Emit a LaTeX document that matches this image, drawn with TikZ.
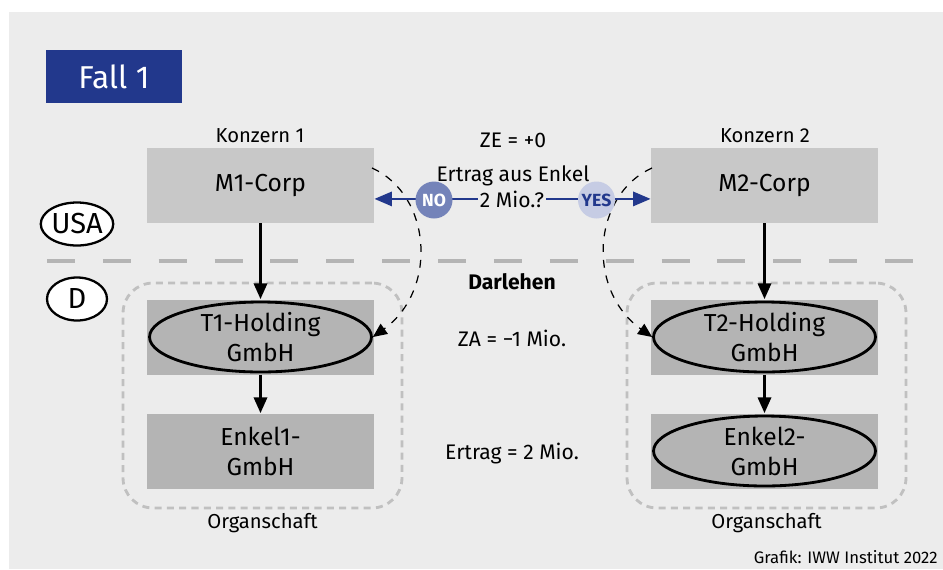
\documentclass[tikz,border=0pt]{standalone}
\usepackage{fontspec}
\setmainfont{Fira Sans}
\usetikzlibrary{arrows.meta,positioning,shapes.geometric}

\definecolor{iwwblue}{RGB}{34,56,140}
\definecolor{nocol}{RGB}{116,131,185}
\definecolor{yescol}{RGB}{198,204,228}
\definecolor{bggray}{RGB}{236,236,236}
\definecolor{corpgray}{RGB}{200,200,200}
\definecolor{gmbhgray}{RGB}{180,180,180}
\definecolor{organgray}{RGB}{192,192,192}

\begin{document}
\begin{tikzpicture}[x=0.02cm,y=-0.02cm,
  corp/.style={fill=corpgray,minimum width=4.54cm,minimum height=1.5cm,inner sep=0pt,
    align=center,font=\fontsize{14}{17}\selectfont},
  gmbh/.style={corp,fill=gmbhgray},
  oval/.style={ellipse,draw=black,line width=1.6pt,fill=gmbhgray,minimum width=4.44cm,
    minimum height=1.4cm,inner sep=0pt,align=center,font=\fontsize{14}{17}\selectfont},
  land/.style={ellipse,draw=black,line width=1.3pt,fill=white,minimum width=1.2cm,
    minimum height=0.86cm,inner sep=0pt,font=\fontsize{16.5}{19}\selectfont},
  organ/.style={draw=organgray,line width=1.6pt,dash pattern=on 4pt off 3pt,
    rounded corners=0.6cm,minimum width=5.58cm,minimum height=4.5cm},
  txt/.style={font=\fontsize{12}{14}\selectfont,inner sep=0pt,anchor=base},
  down/.style={-{Triangle[length=9pt,width=7.5pt]},line width=1.6pt},
  loan/.style={dash pattern=on 4.5pt off 4.5pt,line width=0.7pt,
    -{Triangle[length=8pt,width=7pt]}},
  flow/.style={-{Triangle[length=10pt,width=8pt]},draw=iwwblue,line width=1.6pt},
  dot/.style={circle,minimum size=0.74cm,inner sep=0pt,font=\fontsize{10}{12}\selectfont\bfseries}]

  \useasboundingbox (0,0) rectangle (943,569);
  \fill[white] (0,0) rectangle (943,569);
  \fill[bggray] (9,12) rectangle (943,569);

  % title
  \node[fill=iwwblue,text=white,minimum width=2.72cm,minimum height=1.06cm,inner sep=0pt,
    font=\fontsize{18}{20}\selectfont] (fall) at (114,76.5) {Fall 1};

  % country line
  \coordinate (sep1) at (47,261);
  \coordinate (sep2) at (915,261);
  \draw[gmbhgray,line width=2.8pt,dash pattern=on 15.9pt off 15.9pt] (sep1) -- (sep2);
  \node[land] (usa) at (77,224) {USA};
  \node[land] (de) at (77,299) {D};

  % Konzern 1
  \node[organ] (og1) at (262.5,395.5) {};
  \node[corp] (m1) at (260.5,185.5) {M1-Corp};
  \node[gmbh] (t1b) at (260.5,337) {};
  \node[oval] (t1) at (t1b) {T1-Holding\\GmbH};
  \node[gmbh] (e1) at (260.5,451) {Enkel1-\\GmbH};
  \node[txt,font=\fontsize{11.5}{14}\selectfont] (k1) at (260,142) {Konzern 1};
  \node[txt,font=\fontsize{11.5}{14}\selectfont,below=2pt of og1,anchor=north] (os1) {Organschaft};
  \draw[down] (m1) -- (t1b);
  \draw[down] (t1b) -- (e1);

  % Konzern 2
  \node[organ] (og2) at (766.5,395.5) {};
  \node[corp] (m2) at (764.5,185.5) {M2-Corp};
  \node[gmbh] (t2b) at (764.5,337) {};
  \node[oval] (t2) at (t2b) {T2-Holding\\GmbH};
  \node[gmbh] (e2b) at (764.5,451) {};
  \node[oval] (e2) at (e2b) {Enkel2-\\GmbH};
  \node[txt,font=\fontsize{11.5}{14}\selectfont] (k2) at (765,142) {Konzern 2};
  \node[txt,font=\fontsize{11.5}{14}\selectfont,below=2pt of og2,anchor=north] (os2) {Organschaft};
  \draw[down] (m2) -- (t2b);
  \draw[down] (t2b) -- (e2b);

  % Darlehen
  \coordinate (l1) at (372,168);
  \coordinate (l2) at (652,168);
  \draw[loan] (l1) .. controls (432,195) and (438,290) .. (t1.east);
  \draw[loan] (l2) .. controls (592,195) and (586,290) .. (t2.west);

  % Ertrag aus Enkel
  \node[txt] (ze) at (513,147) {ZE = +0};
  \node[txt] (eae) at (513,181) {Ertrag aus Enkel};
  \node[txt,inner xsep=1pt] (mio) at (512,207) {2 Mio.?};
  \draw[flow] (mio.west) -- (m1.east |- mio.center);
  \draw[flow] (mio.east) -- (m2.west |- mio.center);
  \node[dot,fill=nocol,text=white] (no) at (434,200) {NO};
  \node[dot,fill=yescol,text=iwwblue] (yes) at (596.5,200) {YES};

  \node[txt,font=\fontsize{12}{14}\selectfont\bfseries] (dar) at (512,289) {Darlehen};
  \node[txt] (za) at (512,346) {ZA = \textminus 1 Mio.};
  \node[txt] (ert) at (512,459) {Ertrag = 2 Mio.};

  \node[font=\fontsize{9.5}{11}\selectfont,inner sep=0pt,anchor=base east] (src) at (938,563)
    {Grafik: IWW Institut 2022};
\end{tikzpicture}
\end{document}
